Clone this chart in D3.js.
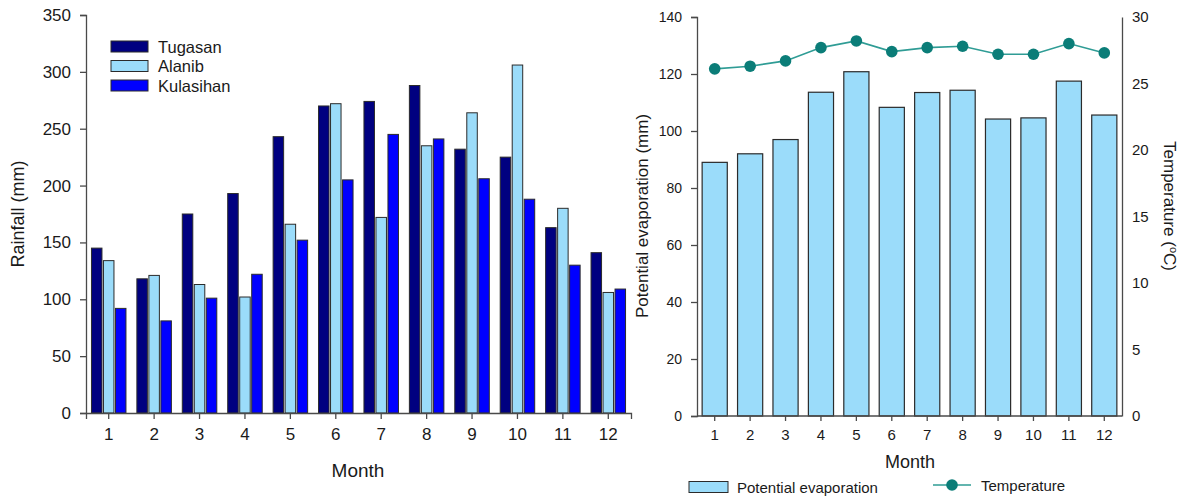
<!DOCTYPE html>
<html>
<head>
<meta charset="utf-8">
<script src="https://cdn.jsdelivr.net/npm/d3@7"></script>
<style>
  html, body { margin: 0; padding: 0; background: #fff; }
  svg { display: block; font-family: "Liberation Sans", Arial, sans-serif; }
</style>
</head>
<body>
<svg id="chart" width="1186" height="497"></svg>
<script>
// Monthly rainfall at three stations
const months = [1, 2, 3, 4, 5, 6, 7, 8, 9, 10, 11, 12];
const stations = ["Tugasan", "Alanib", "Kulasihan"];
const tugasan   = [145, 118, 175, 193, 243, 270, 274, 288, 232, 225, 163, 141];
const alanib    = [134, 121, 113, 102, 166, 272, 172, 235, 264, 306, 180, 106];
const kulasihan = [92, 81, 101, 122, 152, 205, 245, 241, 206, 188, 130, 109];
const rainTicks = [0, 50, 100, 150, 200, 250, 300, 350];

// Monthly potential evaporation and mean temperature
const evaporation = [89, 92, 97, 113.6, 120.8, 108.3, 113.5, 114.3, 104.2, 104.6, 117.5, 105.6];
const temperature = [26.1, 26.3, 26.7, 27.7, 28.2, 27.4, 27.7, 27.8, 27.2, 27.2, 28.0, 27.3];
const evapTicks = [0, 20, 40, 60, 80, 100, 120, 140];
const tempTicks = [0, 5, 10, 15, 20, 25, 30];

const stationColors = ["#000080", "#9bdcfa", "#0000ff"];
const evapColor = "#9bdcfa";
const tealMarker = "#0b7d78";
const tealLine = "#2f9c95";
const axisColor = "#4a4a4a";
const textColor = "#1a1a1a";

const svg = d3.select("#chart");

function styleAxis(g) {
  g.selectAll("path.domain").attr("stroke", axisColor).attr("stroke-width", 1.3);
  g.selectAll(".tick line").attr("stroke", axisColor).attr("stroke-width", 1.3);
  g.selectAll(".tick text").attr("fill", textColor).attr("font-family", "Liberation Sans, Arial, sans-serif");
}

// ---------- Left panel: rainfall ----------
{
  const x = d3.scaleBand().domain(months).range([86, 631]).padding(0);
  const y = d3.scaleLinear().domain([0, 350]).range([413, 15]);
  const series = [tugasan, alanib, kulasihan];
  const barW = 10.5, step = 12;

  const g = svg.append("g");
  series.forEach((vals, i) => {
    g.selectAll(null).data(months).enter().append("rect")
      .attr("x", (m) => x(m) + x.bandwidth() / 2 + (i - 1) * step - barW / 2)
      .attr("y", (m, j) => y(vals[j]))
      .attr("width", barW)
      .attr("height", (m, j) => y(0) - y(vals[j]))
      .attr("fill", stationColors[i])
      .attr("stroke", "#2b2b2b")
      .attr("stroke-width", 1);
  });

  const ax = g.append("g").attr("transform", "translate(0,413)")
    .call(d3.axisBottom(x).tickSizeOuter(0).tickSize(6).tickPadding(9));
  styleAxis(ax);
  ax.selectAll(".tick text").attr("font-size", 17);

  const ay = g.append("g").attr("transform", "translate(86,0)")
    .call(d3.axisLeft(y).tickValues(rainTicks).tickSizeOuter(0).tickSize(6).tickPadding(9));
  styleAxis(ay);
  ay.selectAll(".tick text").attr("font-size", 17);

  g.append("text").attr("x", 358).attr("y", 477).attr("text-anchor", "middle")
    .attr("font-size", 19).attr("fill", textColor).text("Month");
  g.append("text").attr("transform", "translate(24,214) rotate(-90)")
    .attr("text-anchor", "middle").attr("font-size", 18).attr("fill", textColor)
    .text("Rainfall (mm)");

  // legend
  const lg = g.append("g");
  stations.forEach((name, i) => {
    const yy = 41 + i * 19.5;
    lg.append("rect").attr("x", 111).attr("y", yy).attr("width", 37).attr("height", 11)
      .attr("fill", stationColors[i]).attr("stroke", "#2b2b2b").attr("stroke-width", 1);
    lg.append("text").attr("x", 158).attr("y", yy + 11.5).attr("font-size", 16.5)
      .attr("fill", textColor).text(name);
  });
}

// ---------- Right panel: evaporation and temperature ----------
{
  const x = d3.scaleBand().domain(months).range([697, 1122]).paddingInner(0.29).paddingOuter(0.145);
  const y = d3.scaleLinear().domain([0, 140]).range([416, 17]);
  const yT = d3.scaleLinear().domain([0, 30]).range([416, 17]);
  const xc = (m) => x(m) + x.bandwidth() / 2;

  const g = svg.append("g");
  g.selectAll(null).data(months).enter().append("rect")
    .attr("x", (m) => x(m))
    .attr("y", (m, j) => y(evaporation[j]))
    .attr("width", x.bandwidth())
    .attr("height", (m, j) => y(0) - y(evaporation[j]))
    .attr("fill", evapColor)
    .attr("stroke", "#2b2b2b")
    .attr("stroke-width", 1.2);

  const line = d3.line().x((m) => xc(m)).y((m, j) => yT(temperature[j]));
  g.append("path").datum(months).attr("d", line)
    .attr("fill", "none").attr("stroke", tealLine).attr("stroke-width", 1.6);
  g.selectAll(null).data(months).enter().append("circle")
    .attr("cx", (m) => xc(m)).attr("cy", (m, j) => yT(temperature[j]))
    .attr("r", 5.8).attr("fill", tealMarker);

  const ax = g.append("g").attr("transform", "translate(0,416)")
    .call(d3.axisBottom(x).tickSizeOuter(0).tickSize(5).tickPadding(8));
  styleAxis(ax);
  ax.select("path.domain").attr("d", "M697,0H1122");
  ax.selectAll(".tick text").attr("font-size", 15);

  const ay = g.append("g").attr("transform", "translate(697,0)")
    .call(d3.axisLeft(y).tickValues(evapTicks).tickSizeOuter(0).tickSize(6).tickPadding(9));
  styleAxis(ay);
  ay.selectAll(".tick text").attr("font-size", 14);

  const ayr = g.append("g").attr("transform", "translate(1122,0)")
    .call(d3.axisRight(yT).tickValues(tempTicks).tickSizeOuter(0).tickSize(0).tickPadding(10));
  styleAxis(ayr);
  ayr.selectAll(".tick text").attr("font-size", 15);

  g.append("text").attr("x", 910).attr("y", 468).attr("text-anchor", "middle")
    .attr("font-size", 18).attr("fill", textColor).text("Month");
  g.append("text").attr("transform", "translate(648,216) rotate(-90)")
    .attr("text-anchor", "middle").attr("font-size", 17).attr("fill", textColor)
    .text("Potential evaporation (mm)");

  const tl = g.append("text").attr("transform", "translate(1164,206) rotate(90)")
    .attr("text-anchor", "middle").attr("font-size", 17).attr("fill", textColor);
  tl.append("tspan").text("Temperature (");
  tl.append("tspan").attr("font-size", 11).attr("dy", -6).text("o");
  tl.append("tspan").attr("dy", 6).text("C)");

  // legend below the axis
  const lg = g.append("g");
  lg.append("rect").attr("x", 689).attr("y", 481.5).attr("width", 39).attr("height", 11)
    .attr("fill", evapColor).attr("stroke", "#2b2b2b").attr("stroke-width", 1);
  lg.append("text").attr("x", 737).attr("y", 492.5).attr("font-size", 15)
    .attr("fill", textColor).text("Potential evaporation");
  lg.append("line").attr("x1", 933).attr("x2", 971).attr("y1", 485).attr("y2", 485)
    .attr("stroke", tealLine).attr("stroke-width", 1.6);
  lg.append("circle").attr("cx", 952).attr("cy", 485).attr("r", 5.8).attr("fill", tealMarker);
  lg.append("text").attr("x", 981).attr("y", 490.5).attr("font-size", 15)
    .attr("fill", textColor).text("Temperature");
}
</script>
</body>
</html>
